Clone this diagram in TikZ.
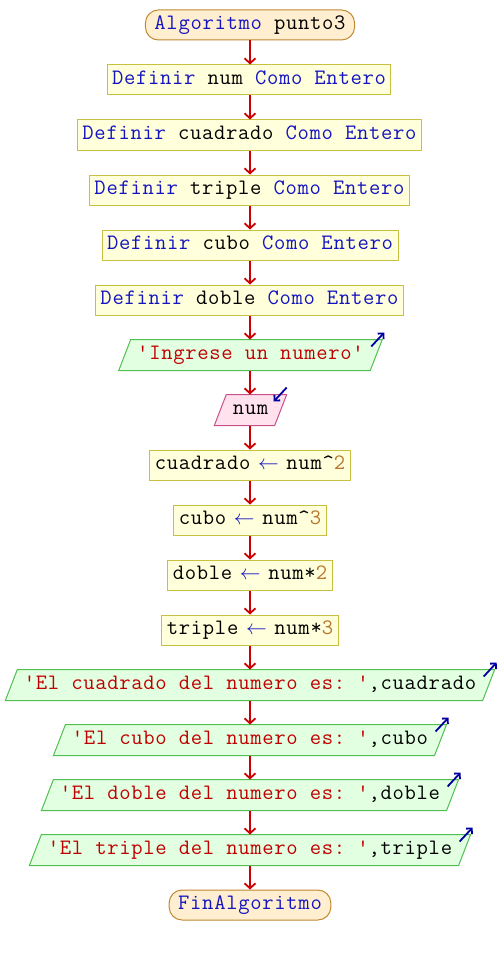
\documentclass[tikz,border=0pt]{standalone}
\usepackage{fontspec}
\setmonofont{Latin Modern Mono}[LetterSpace=3.2]
\usetikzlibrary{arrows.meta,backgrounds}
\definecolor{kwc}{HTML}{1414C0}
\definecolor{strc}{HTML}{C00000}
\definecolor{numc}{HTML}{B87830}
\definecolor{procf}{HTML}{FFFFDC}
\definecolor{procb}{HTML}{C8C040}
\definecolor{termf}{HTML}{FFEFD0}
\definecolor{termb}{HTML}{C08830}
\definecolor{outf}{HTML}{E2FFE2}
\definecolor{outb}{HTML}{50C050}
\definecolor{inf}{HTML}{FFE2EE}
\definecolor{inb}{HTML}{C85088}
\definecolor{flowc}{HTML}{CC0000}
\definecolor{cornc}{HTML}{0000A0}
\newcommand\kwd[1]{\textcolor{kwc}{#1}}
\newcommand\strg[1]{\textcolor{strc}{#1}}
\newcommand\numv[1]{\textcolor{numc}{#1}}
\newcommand\assignarrow{\makebox[12pt][c]{\textcolor{kwc}{$\leftarrow$}}}
\begin{document}
\begin{tikzpicture}[x=1pt,y=-1pt,
  font=\ttfamily\fontsize{22}{24}\selectfont,
  base/.style={inner ysep=0pt, minimum height=30pt, text height=13pt, text depth=4pt, line width=1pt},
  proc/.style={base, draw=procb, fill=procf, inner xsep=5pt},
  term/.style={base, draw=termb, fill=termf, rounded corners=13pt, inner xsep=9pt},
  io/.style={base, inner xsep=12pt},
  flow/.style={draw=flowc, line width=1.8pt, -{Straight Barb[length=5pt,width=11pt,line width=1.8pt]}},
  corner/.style={draw=cornc, line width=1.8pt, -{Straight Barb[length=4pt,width=8pt,line width=1.8pt]}}]
\useasboundingbox (0,0) rectangle (500,955);
\node[term] (n1) at (250,25) {\kwd{Algoritmo} punto3};
\node[proc] (n2) at (249,80) {\kwd{Definir} num \kwd{Como Entero}};
\node[proc] (n3) at (249.5,135) {\kwd{Definir} cuadrado \kwd{Como Entero}};
\node[proc] (n4) at (249.5,190) {\kwd{Definir} triple \kwd{Como Entero}};
\node[proc] (n5) at (250,245) {\kwd{Definir} cubo \kwd{Como Entero}};
\node[proc] (n6) at (249.5,300) {\kwd{Definir} doble \kwd{Como Entero}};
\node[io] (n7) at (250.5,355) {\strg{'Ingrese un numero'}};
\node[io] (n8) at (250.5,410) {num};
\node[proc] (n9) at (250,465) {cuadrado \assignarrow{} num\textasciicircum\numv{2}};
\node[proc] (n10) at (250,520) {cubo \assignarrow{} num\textasciicircum\numv{3}};
\node[proc] (n11) at (250,575) {doble \assignarrow{} num*\numv{2}};
\node[proc] (n12) at (250,630) {triple \assignarrow{} num*\numv{3}};
\node[io] (n13) at (250,685) {\strg{'El cuadrado del numero es: '},cuadrado};
\node[io] (n14) at (250,740) {\strg{'El cubo del numero es: '},cubo};
\node[io] (n15) at (250,795) {\strg{'El doble del numero es: '},doble};
\node[io] (n16) at (250,850) {\strg{'El triple del numero es: '},triple};
\node[term] (n17) at (250,905) {\kwd{FinAlgoritmo}};
\begin{scope}[on background layer]
\foreach \n/\c/\f in {n7/outb/outf, n8/inb/inf, n13/outb/outf, n14/outb/outf, n15/outb/outf, n16/outb/outf}
  \filldraw[draw=\c, fill=\f, line width=1pt] ([xshift=-6pt]\n.south west) -- ([xshift=6pt]\n.north west) -- ([xshift=6pt]\n.north east) -- ([xshift=-6pt]\n.south east) -- cycle;
\end{scope}
\foreach \a/\b in {n1/n2, n2/n3, n3/n4, n4/n5, n5/n6, n6/n7, n7/n8, n8/n9, n9/n10, n10/n11, n11/n12, n12/n13, n13/n14, n14/n15, n15/n16, n16/n17}
  \draw[flow] (\a.south -| 250,0) -- (\b.north -| 250,0);
\foreach \n in {n7, n13, n14, n15, n16}
  \draw[corner] ([shift={(-5,7)}]\n.north east) -- ([shift={(8,-7)}]\n.north east);
\draw[corner] ([shift={(6,-7)}]n8.north east) -- ([shift={(-7,7)}]n8.north east);
\end{tikzpicture}
\end{document}
